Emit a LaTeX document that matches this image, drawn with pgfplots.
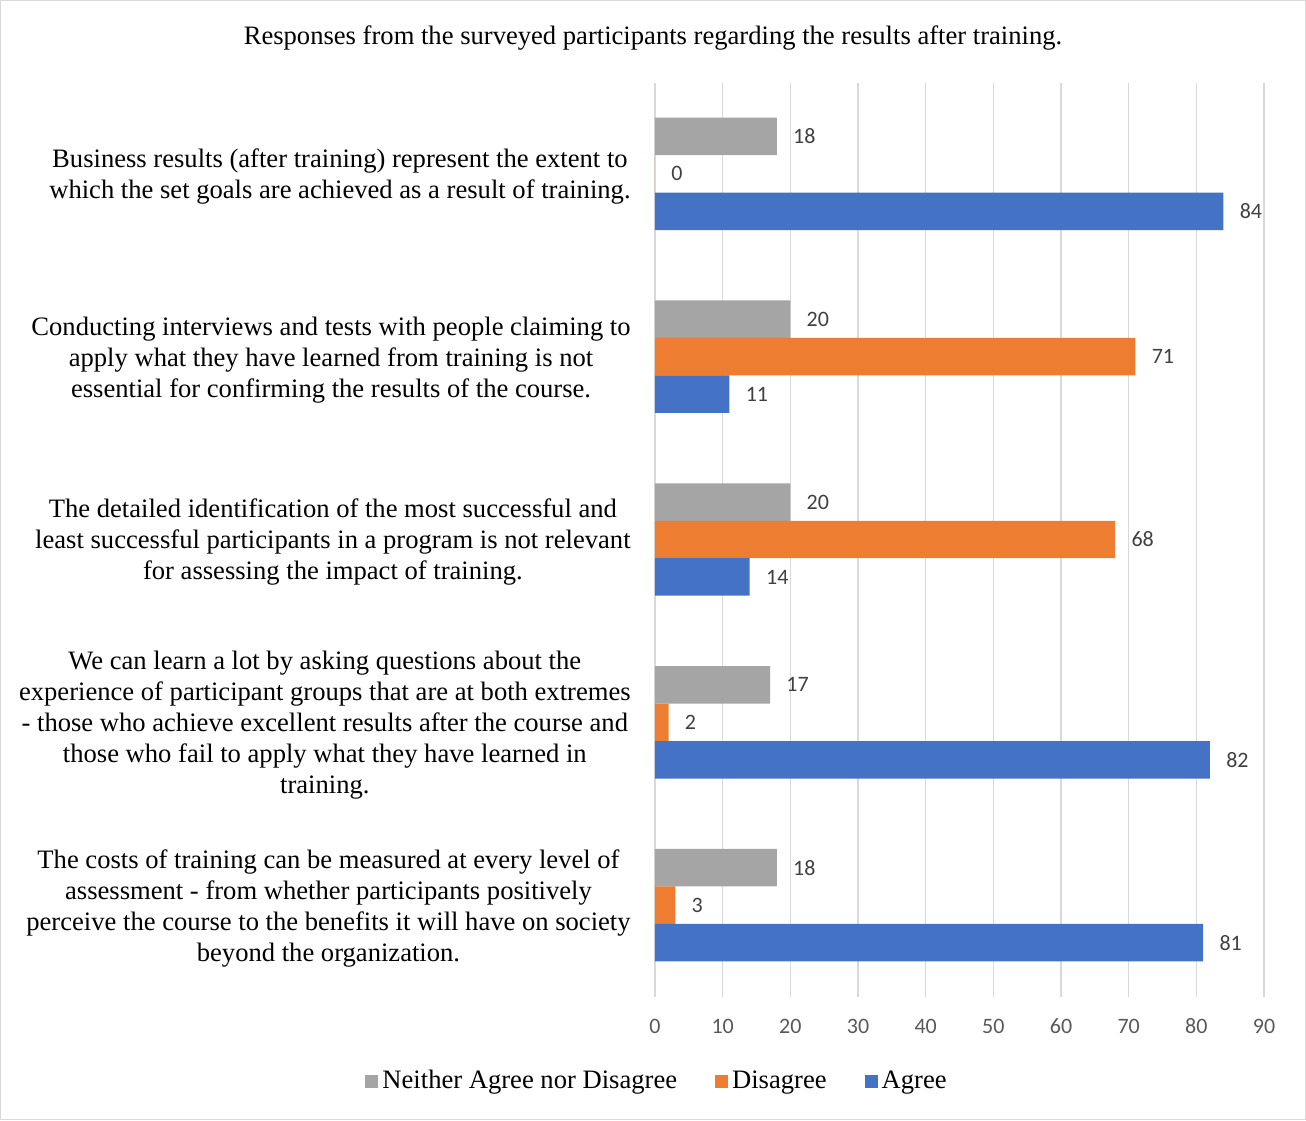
\documentclass[border=0pt]{standalone}
\usepackage{fontspec}
\setmainfont{Liberation Serif}
\newfontfamily\carlito{Carlito}
\usepackage{pgfplots}
\pgfplotsset{compat=1.18}
\definecolor{cGray}{HTML}{A5A5A5}
\definecolor{cOrange}{HTML}{ED7D31}
\definecolor{cBlue}{HTML}{4472C4}
\definecolor{cGrid}{HTML}{D9D9D9}
\definecolor{cTick}{HTML}{595959}
\definecolor{cLabel}{HTML}{404040}
\begin{document}
\begin{tikzpicture}
\draw[cGrid, line width=0.6pt] (0.3pt,0.3pt) rectangle (652.7pt,559.7pt);
\node[font=\fontsize{13.3}{15.5}\selectfont] at (326.5pt,541pt) {Responses from the surveyed participants regarding the results after training.};
\begin{axis}[
  at={(327.5pt,61.75pt)}, anchor=south west,
  scale only axis, width=304.5pt, height=457pt,
  xbar, xmin=0, xmax=90, ymin=-0.5, ymax=4.5,
  bar width=0.205,
  axis line style={draw=none},
  tick style={draw=none},
  major tick length=0pt,
  xtick={0,10,...,90},
  xmajorgrids, grid style={cGrid, line width=0.75pt},
  ytick={0,1,2,3,4},
  yticklabels={
    {The costs of training can be measured at every level of\\assessment - from whether participants positively\\perceive the course to the benefits it will have on society\\beyond the organization.},
    {We can learn a lot by asking questions about the\\experience of participant groups that are at both extremes\\- those who achieve excellent results after the course and\\those who fail to apply what they have learned in\\training.},
    {The detailed identification of the most successful and\\least successful participants in a program is not relevant\\for assessing the impact of training.},
    {Conducting interviews and tests with people claiming to\\apply what they have learned from training is not\\essential for confirming the results of the course.},
    {Business results (after training) represent the extent to\\which the set goals are achieved as a result of training.}
  },
  yticklabel style={align=center, inner sep=0pt, anchor=east, xshift=-12pt, yshift=-1.5pt, font=\fontsize{13.3}{15.5}\selectfont},
  xticklabel style={font=\carlito\fontsize{11}{13}\selectfont, text=cTick, inner sep=0pt, anchor=north, yshift=-11pt},
  /pgf/number format/assume math mode=true,
  nodes near coords,
  nodes near coords style={font=\carlito\fontsize{11}{13}\selectfont, text=cLabel, anchor=west, inner sep=0pt, xshift=8pt},
  legend columns=3,
  legend style={at={(0.005,-0.0925)}, anchor=center, draw=none, fill=none,
    font=\fontsize{13.3}{15.5}\selectfont, inner sep=0pt,
    /tikz/every even column/.append style={column sep=17pt},
    nodes={inner sep=2pt}},
  legend image code/.code={\fill[#1] (0pt,-3.25pt) rectangle (6.5pt,3.25pt);},
]
\addplot[fill=cGray, draw=none, bar shift=0.205] coordinates {(18,0) (17,1) (20,2) (20,3) (18,4)};
\addlegendentry{Neither Agree nor Disagree}
\addplot[fill=cOrange, draw=none, bar shift=0] coordinates {(3,0) (2,1) (68,2) (71,3) (0,4)};
\addlegendentry{Disagree}
\addplot[fill=cBlue, draw=none, bar shift=-0.205] coordinates {(81,0) (82,1) (14,2) (11,3) (84,4)};
\addlegendentry{Agree}
\end{axis}
\end{tikzpicture}
\end{document}
